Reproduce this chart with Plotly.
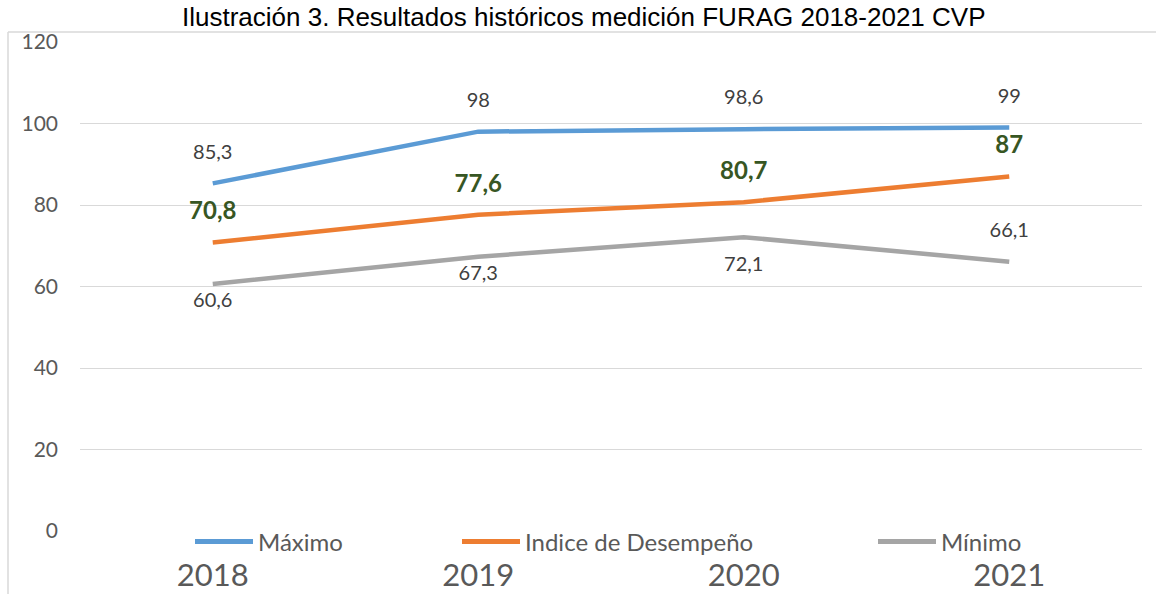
import plotly.graph_objects as go

# ---- data ----
years = ["2018", "2019", "2020", "2021"]
maximo = [85.3, 98, 98.6, 99]
indice = [70.8, 77.6, 80.7, 87]
minimo = [60.6, 67.3, 72.1, 66.1]
y_ticks = [0, 20, 40, 60, 80, 100, 120]
title_text = "Ilustración 3. Resultados históricos medición FURAG 2018-2021 CVP"

# ---- styles (label offsets via invisible marker size) ----
max_marker_size = 30
ind_marker_size = 26
min_text_pos = ["bottom center", "bottom center", "bottom center", "top center"]
min_marker_size = [11, 11, 28, 30]

def fmt(v):
    return f"{v:g}".replace(".", ",")

FONT = "Lato, 'Open Sans', sans-serif"
x_idx = list(range(len(years)))
INVIS = "rgba(0,0,0,0)"

fig = go.Figure()
series = [
    ("Máximo", maximo, "#5B9BD5", max_marker_size, "top center",
     dict(family=FONT, size=20, color="#404040"), "legend"),
    ("Indice de Desempeño", indice, "#ED7D31", ind_marker_size, "top center",
     dict(family=FONT, size=24, color="#375623", weight="bold"), "legend2"),
    ("Mínimo", minimo, "#A5A5A5", min_marker_size, min_text_pos,
     dict(family=FONT, size=20, color="#404040"), "legend3"),
]
for name, vals, color, msize, tpos, tfont, leg in series:
    fig.add_trace(go.Scatter(
        x=x_idx, y=vals, name=name, mode="lines+markers+text",
        line=dict(color=color, width=4.5),
        marker=dict(size=msize, color=INVIS, line=dict(width=0)),
        text=[fmt(v) for v in vals], textposition=tpos, textfont=tfont,
        showlegend=False, cliponaxis=False, hoverinfo="skip",
    ))
for name, vals, color, msize, tpos, tfont, leg in series:
    fig.add_trace(go.Scatter(
        x=[None], y=[None], name=name, mode="lines",
        line=dict(color=color, width=5), legend=leg, showlegend=True,
    ))

W, H = 1156, 594
L, R, T, B = 80, 14, 42, 63
pw, ph = W - L - R, H - T - B

def px(x):
    return (x - L) / pw

def py(y):
    return (H - B - y) / ph

leg_common = dict(orientation="h", yanchor="middle", xanchor="left",
                  font=dict(family=FONT, size=24, color="#595959"),
                  itemwidth=58, bgcolor="rgba(0,0,0,0)", borderwidth=0)

fig.update_layout(
    width=W, height=H,
    margin=dict(l=L, r=R, t=T, b=B, autoexpand=False),
    paper_bgcolor="white", plot_bgcolor="white",
    showlegend=True,
    legend=dict(x=px(190), y=py(542), **leg_common),
    legend2=dict(x=px(457), y=py(542), **leg_common),
    legend3=dict(x=px(873), y=py(542), **leg_common),
    xaxis=dict(
        range=[-0.5, 3.5], tickmode="array", tickvals=x_idx, ticktext=years,
        showgrid=False, zeroline=False, showline=False, ticks="",
        tickfont=dict(family=FONT, size=31, color="#595959"),
        ticklabelstandoff=23, automargin=False, fixedrange=True,
    ),
    yaxis=dict(
        range=[0, 120], tickmode="array", tickvals=y_ticks,
        showgrid=True, gridcolor="#D9D9D9", gridwidth=1,
        zeroline=False, showline=False, ticks="",
        tickfont=dict(family=FONT, size=21, color="#595959"),
        ticklabelstandoff=21, automargin=False, fixedrange=True,
    ),
    annotations=[dict(
        text=title_text, xref="paper", yref="paper",
        x=px(584), y=py(0), xanchor="center", yanchor="top",
        showarrow=False,
        font=dict(family="Liberation Sans, Arial", size=26, color="black"),
    )],
    shapes=[
        dict(type="line", xref="paper", yref="paper", x0=px(8), x1=px(1160),
             y0=py(32), y1=py(32), line=dict(color="#D9D9D9", width=1.5)),
        dict(type="line", xref="paper", yref="paper", x0=px(8), x1=px(8),
             y0=py(32), y1=py(600), line=dict(color="#D9D9D9", width=1.5)),
    ],
)

fig.write_html(
    "out.html",
    config={"displayModeBar": False},
    post_script="document.body.style.margin='0';document.body.style.overflow='hidden';",
)
